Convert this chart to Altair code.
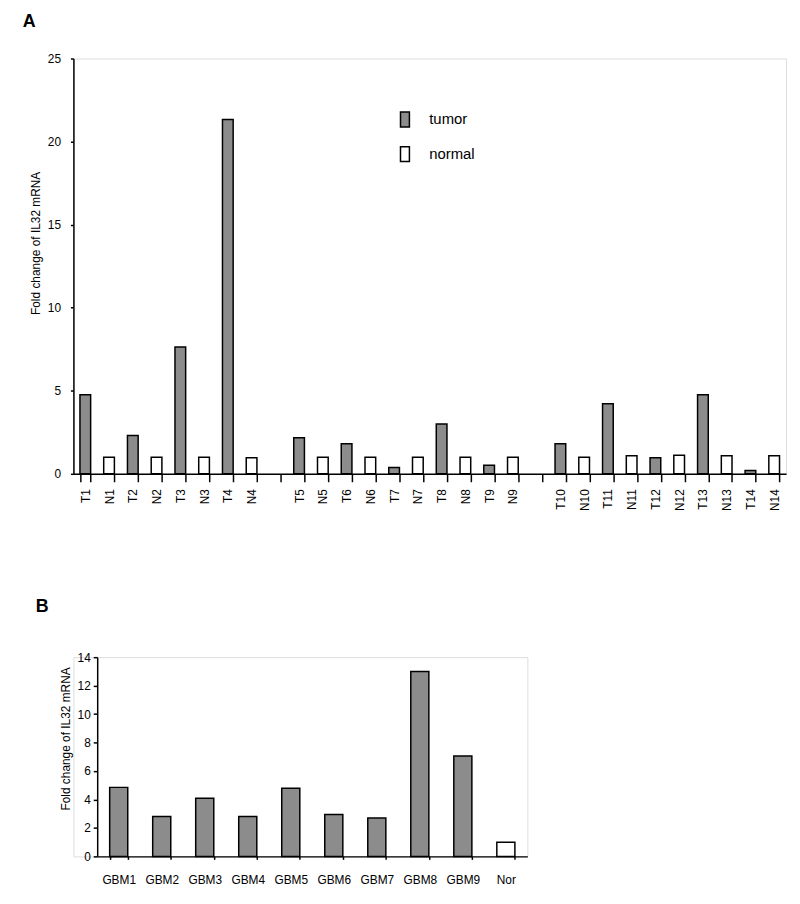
import altair as alt
import pandas as pd

# ---------------- Panel A data ----------------
group1 = ["T1", "N1", "T2", "N2", "T3", "N3", "T4", "N4"]
group2 = ["T5", "N5", "T6", "N6", "T7", "N7", "T8", "N8", "T9", "N9"]
group3 = ["T10", "N10", "T11", "N11", "T12", "N12", "T13", "N13", "T14", "N14"]
gap_labels = [" ", "  "]
values_a = [4.76, 1.0, 2.31, 1.0, 7.64, 1.0, 21.33, 0.97,
            2.17, 1.0, 1.81, 1.0, 0.38, 1.0, 3.0, 1.0, 0.52, 1.0,
            1.81, 1.0, 4.22, 1.09, 0.96, 1.11, 4.76, 1.09, 0.2, 1.09]
yticks_a = [0, 5, 10, 15, 20, 25]

# ---------------- Panel B data ----------------
samples_b = ["GBM1", "GBM2", "GBM3", "GBM4", "GBM5", "GBM6", "GBM7", "GBM8", "GBM9", "Nor"]
values_b = [4.85, 2.8, 4.08, 2.8, 4.78, 2.95, 2.69, 13.0, 7.05, 1.0]
yticks_b = [0, 2, 4, 6, 8, 10, 12, 14]

type_names = ["tumor", "normal"]
ytitle = "Fold change of IL32 mRNA"

samples_a = group1 + group2 + group3
order_a = group1 + [gap_labels[0]] + group2 + [gap_labels[1]] + group3
types_a = ["tumor" if s.startswith("T") else "normal" for s in samples_a]
types_b = ["normal" if s == "Nor" else "tumor" for s in samples_b]

dfa = pd.DataFrame({"sample": samples_a, "value": values_a, "type": types_a})
dfb = pd.DataFrame({"sample": samples_b, "value": values_b, "type": types_b})

FONT = "Liberation Sans"
color_scale = alt.Scale(domain=type_names, range=["#8c8c8c", "#ffffff"])

common_axis = dict(domainColor="black", tickColor="black", labelColor="black",
                   titleColor="black", grid=False, labelFont=FONT, titleFont=FONT,
                   titleFontWeight="normal", titleFontSize=12, labelFontSize=12,
                   domainWidth=1.5, tickWidth=1.5)

chart_a = alt.Chart(
    dfa,
    title=alt.TitleParams("A", anchor="start", frame="group", dx=-51, offset=22,
                          fontSize=18, fontWeight="bold", font=FONT, color="black"),
).mark_bar(stroke="black", strokeWidth=1.5).encode(
    x=alt.X("sample:N", sort=order_a,
            scale=alt.Scale(domain=order_a, paddingInner=0.55, paddingOuter=0.275),
            axis=alt.Axis(title=None, labelAngle=-90, tickBand="extent", tickSize=8,
                          labelPadding=7, **common_axis)),
    y=alt.Y("value:Q", scale=alt.Scale(domain=[0, 25]),
            axis=alt.Axis(values=yticks_a, title=ytitle, tickSize=3, labelPadding=10,
                          titlePadding=5, titleY=186, **common_axis)),
    fill=alt.Fill("type:N", scale=color_scale,
                  legend=alt.Legend(title=None, orient="none", legendX=326, legendY=53,
                                    symbolType="M-0.6,-1H0.6V1H-0.6Z", symbolSize=225,
                                    symbolStrokeColor="black", symbolStrokeWidth=1.5,
                                    labelFontSize=15, labelFont=FONT, labelColor="black",
                                    labelOffset=16, rowPadding=14)),
).properties(width=719, height=419)

chart_b = alt.Chart(
    dfb,
    title=alt.TitleParams("B", anchor="start", frame="group", dx=-38, offset=36,
                          fontSize=18, fontWeight="bold", font=FONT, color="black"),
).mark_bar(stroke="black", strokeWidth=1.5).encode(
    x=alt.X("sample:N", sort=samples_b,
            scale=alt.Scale(domain=samples_b, range=[24, 458], paddingInner=0.58, paddingOuter=0.29),
            axis=alt.Axis(title=None, labelAngle=0, tickBand="extent", tickSize=3,
                          labelPadding=15, **common_axis)),
    y=alt.Y("value:Q", scale=alt.Scale(domain=[0, 14]),
            axis=alt.Axis(values=yticks_b, title=ytitle, tickSize=4, labelPadding=3,
                          titlePadding=5, offset=-24, titleY=82, **common_axis)),
    fill=alt.Fill("type:N", scale=color_scale, legend=None),
).properties(width=458, height=201)

chart = alt.vconcat(
    chart_a, chart_b, spacing=86,
    padding={"left": 14, "top": 0, "right": 5, "bottom": 5},
).resolve_scale(fill="independent").configure_view(stroke=None).configure(font=FONT)

chart.save("out.html", embed_options={"renderer": "svg", "actions": False})
